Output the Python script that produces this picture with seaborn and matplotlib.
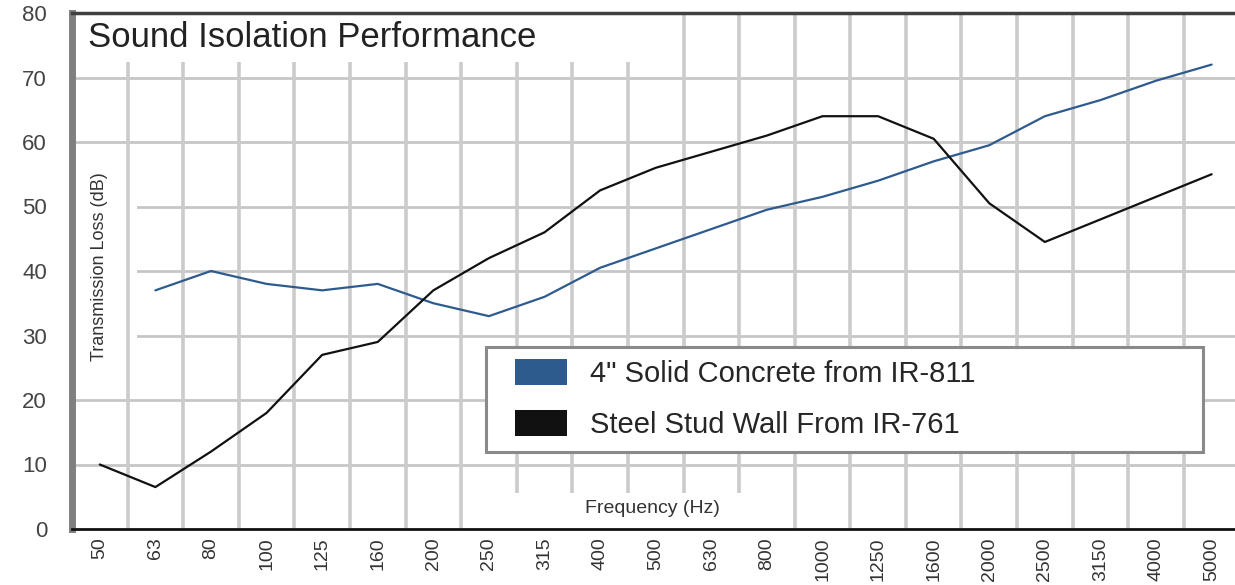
import matplotlib
matplotlib.use("Agg")
import matplotlib.pyplot as plt
from matplotlib.patches import Patch, Rectangle
import numpy as np
import pandas as pd
import seaborn as sns

# Data
freqs = ["50", "63", "80", "100", "125", "160", "200", "250", "315", "400", "500",
         "630", "800", "1000", "1250", "1600", "2000", "2500", "3150", "4000", "5000"]
concrete = [np.nan, 37, 40, 38, 37, 38, 35, 33, 36, 40.5, 43.5,
            46.5, 49.5, 51.5, 54, 57, 59.5, 64, 66.5, 69.5, 72]
steel = [10, 6.5, 12, 18, 27, 29, 37, 42, 46, 52.5, 56,
         58.5, 61, 64, 64, 60.5, 50.5, 44.5, 48, 51.5, 55]
series_names = ['4" Solid Concrete from IR-811', "Steel Stud Wall From IR-761"]
series_colors = ["#2e5b8e", "#111111"]
yticks = [0, 10, 20, 30, 40, 50, 60, 70, 80]

df = pd.concat([
    pd.DataFrame({"pos": range(len(freqs)), "tl": concrete, "wall": series_names[0]}),
    pd.DataFrame({"pos": range(len(freqs)), "tl": steel, "wall": series_names[1]}),
]).dropna()

sns.set_style("white")
plt.rcParams["font.family"] = ["Liberation Sans", "DejaVu Sans"]

fig = plt.figure(figsize=(12.35, 5.85), dpi=100)
ax = fig.add_axes([72 / 1235, 1 - 529 / 585, 1 - 72 / 1235, (529 - 13) / 585])

sns.lineplot(data=df, x="pos", y="tl", hue="wall", palette=series_colors,
             hue_order=series_names, linewidth=1.6, legend=False, ax=ax, zorder=2.5)

ax.set_xlim(-0.5, 20.42)
ax.set_ylim(0, 80)

# grid: horizontal lines under the y-label box, vertical lines above it
for v in yticks[1:-1]:
    ax.axhline(v, color="#c6c6c6", lw=2, zorder=1)
for i in range(len(freqs) - 1):
    ax.axvline(i + 0.5, color="#cbcbcb", lw=2.6, zorder=2)

# white boxes behind title, y label and x label
ax.add_patch(Rectangle((0, 0.905), 0.514, 0.095, transform=ax.transAxes,
                       facecolor="white", edgecolor="none", zorder=3))
ax.add_patch(Rectangle((0, 0.269), 0.056, 0.465, transform=ax.transAxes,
                       facecolor="white", edgecolor="none", zorder=1.5))
ax.add_patch(Rectangle((0.381, 0.0), 0.219, 0.07, transform=ax.transAxes,
                       facecolor="white", edgecolor="none", zorder=3))

ax.text(0.0135, 0.952, "Sound Isolation Performance", transform=ax.transAxes,
        fontsize=25, color="#222222", ha="left", va="center", zorder=4)
ax.text(0.024, 0.508, "Transmission Loss (dB)", transform=ax.transAxes,
        fontsize=13, color="#333333", rotation=90, ha="center", va="center", zorder=4)
ax.text(0.4987, 0.04, "Frequency (Hz)", transform=ax.transAxes,
        fontsize=14, color="#333333", ha="center", va="center", zorder=4)
ax.set_xlabel("")
ax.set_ylabel("")

# ticks
ax.set_xticks(range(len(freqs)))
ax.set_xticklabels(freqs, rotation=90, fontsize=14, color="#333333")
ax.set_xticks(np.arange(len(freqs) - 1) + 0.5, minor=True)
ax.tick_params(axis="x", which="major", length=0, pad=6)
ax.tick_params(axis="x", which="minor", length=6, width=2.5, direction="inout", color="#222222")
ax.set_yticks(yticks)
ax.set_yticklabels([str(v) for v in yticks], fontsize=16, color="#444444")
ax.tick_params(axis="y", length=14, width=2.5, direction="inout", color="#111111", pad=11)

ax.spines["left"].set_color("#808080")
ax.spines["left"].set_linewidth(5)
ax.spines["top"].set_color("#404040")
ax.spines["top"].set_linewidth(2.5)
ax.spines["bottom"].set_color("#111111")
ax.spines["bottom"].set_linewidth(2)
ax.spines["right"].set_visible(False)
for side in ["top", "bottom", "left"]:
    ax.spines[side].set_visible(True)
    ax.spines[side].set_zorder(6)

# legend: frame drawn separately so the content can sit further in
ax.add_patch(Rectangle((0.356, 0.149), 0.6165, 0.2035, transform=ax.transAxes,
                       facecolor="white", edgecolor="#8a8a8a", lw=2.2, zorder=4.8))
handles = [Patch(facecolor=c, edgecolor="none", label=n) for c, n in zip(series_colors, series_names)]
leg = ax.legend(handles=handles, loc="upper left",
                bbox_to_anchor=(0.3705, 0.3525), borderaxespad=0,
                fontsize=21, handlelength=1.8, handleheight=1.0, handletextpad=0.8,
                labelspacing=0.75, borderpad=0.4, frameon=False)
leg.set_zorder(5)

fig.savefig("out.png", dpi=100)
